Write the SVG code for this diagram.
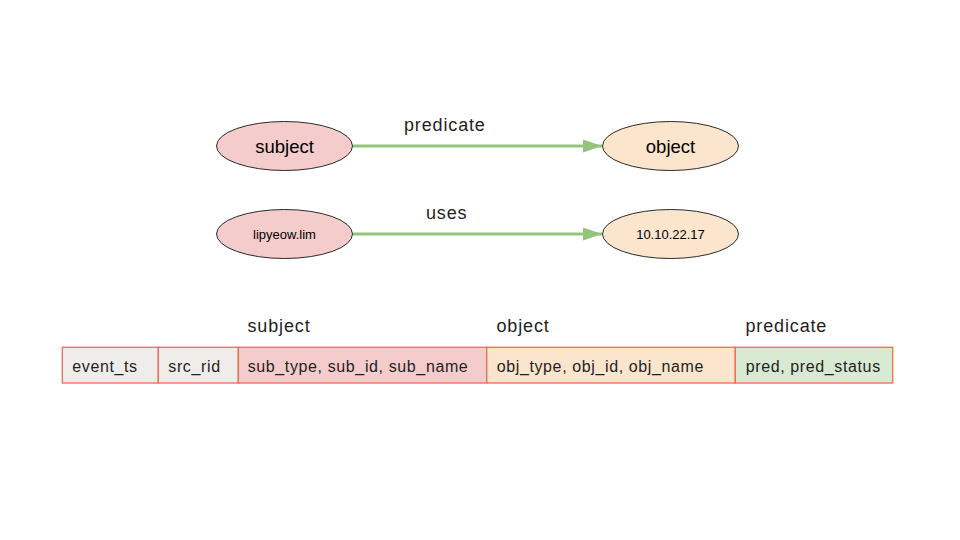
<svg xmlns="http://www.w3.org/2000/svg" width="960" height="540" viewBox="0 0 960 540">
<style>
.ell{stroke:#2b2b2b;stroke-width:1}
.sub{fill:#f4cccc}
.obj{fill:#fce5cd}
.etxt{font-family:"Liberation Sans",Arial,sans-serif;font-size:18.5px;fill:#000;text-anchor:middle}
.small{font-size:13px}
.lbl{font-family:"Liberation Sans",Arial,sans-serif;font-size:18px;letter-spacing:0.85px;fill:#1f1f1f}
.cell{stroke:#f26a52;stroke-width:1.3}
.ctxt{font-family:"Liberation Sans",Arial,sans-serif;font-size:16px;letter-spacing:0.62px;fill:#1f1f1f}
.conn{stroke:#93c47d;stroke-width:3;fill:none}
</style>
<defs>
<marker id="arr" markerUnits="userSpaceOnUse" markerWidth="20" markerHeight="14" refX="19" refY="7" orient="auto">
<path d="M0,0.5 L19,7 L0,13.5 Z" fill="#93c47d"/>
</marker>
</defs>
<rect width="960" height="540" fill="#fff"/>
<g id="connectors">
<line class="conn" x1="353" y1="146" x2="602" y2="146" marker-end="url(#arr)"/>
<line class="conn" x1="353" y1="234" x2="602" y2="234" marker-end="url(#arr)"/>
<text class="lbl" x="404" y="131">predicate</text>
<text class="lbl" x="426" y="219">uses</text>
</g>
<g id="node-subject">
<ellipse class="ell sub" cx="284.5" cy="146" rx="68" ry="24.5"/>
<text class="etxt" x="284.5" y="152.5">subject</text>
</g>
<g id="node-object">
<ellipse class="ell obj" cx="670.5" cy="146" rx="68" ry="24.5"/>
<text class="etxt" x="670.5" y="152.5">object</text>
</g>
<g id="node-lipyeow">
<ellipse class="ell sub" cx="284.5" cy="234" rx="68" ry="24.5"/>
<text class="etxt small" x="284.5" y="238.5">lipyeow.lim</text>
</g>
<g id="node-ip">
<ellipse class="ell obj" cx="670.5" cy="234" rx="68" ry="24.5"/>
<text class="etxt small" x="670.5" y="238.5">10.10.22.17</text>
</g>
<g id="table">
<text class="lbl" x="247.5" y="332">subject</text>
<text class="lbl" x="496.5" y="332">object</text>
<text class="lbl" x="745.5" y="332">predicate</text>
<rect class="cell" x="62.3" y="347.3" width="96" height="35.7" fill="#efedea"/>
<rect class="cell" x="158.3" y="347.3" width="80" height="35.7" fill="#efedea"/>
<rect class="cell" x="238.3" y="347.3" width="248.4" height="35.7" fill="#f4cccc"/>
<rect class="cell" x="486.7" y="347.3" width="248.6" height="35.7" fill="#fce5cd"/>
<rect class="cell" x="735.3" y="347.3" width="157.4" height="35.7" fill="#d9ead3"/>
<text class="ctxt" x="72.3" y="371.5">event_ts</text>
<text class="ctxt" x="168.3" y="371.5">src_rid</text>
<text class="ctxt" x="247.7" y="371.5">sub_type, sub_id, sub_name</text>
<text class="ctxt" x="496.7" y="371.5">obj_type, obj_id, obj_name</text>
<text class="ctxt" x="745.7" y="371.5">pred, pred_status</text>
</g>
</svg>
